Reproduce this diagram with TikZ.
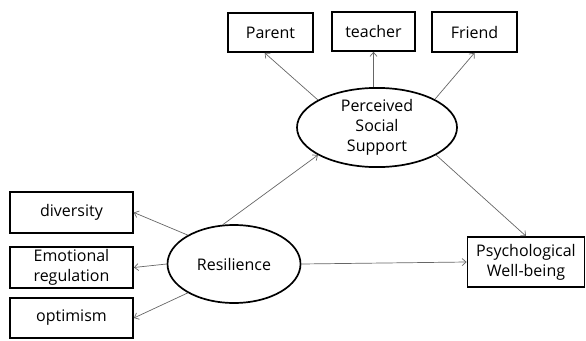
\documentclass[tikz,border=0pt]{standalone}
\usepackage{fontspec}
\setmainfont{Open Sans}
\usetikzlibrary{shapes.geometric,arrows.meta}
\begin{document}
\begin{tikzpicture}[x=1pt,y=-1pt,
  every node/.style={font=\fontsize{16}{20}\selectfont, inner sep=0pt, align=center},
  obs/.style={draw=black, line width=1.7pt, rectangle},
  latent/.style={draw=black, line width=1.7pt, ellipse},
  arr/.style={draw=black!60, line width=0.7pt, -{Straight Barb[length=4pt,width=7pt]}}]
\useasboundingbox (0,0) rectangle (586,340);

% indicators of perceived social support
\node[obs, minimum width=85pt, minimum height=39pt] (parent) at (270.5,32.5) {Parent};
\node[obs, minimum width=83pt, minimum height=39pt] (teacher) at (373.5,31.5) {teacher};
\node[obs, minimum width=85pt, minimum height=40pt] (friend) at (474.5,32) {Friend};

% latent constructs
\node[latent, minimum width=160pt, minimum height=75pt] (pss) at (377,127.5) {Perceived\\Social\\Support};
\node[latent, minimum width=133pt, minimum height=78pt] (res) at (234,264) {Resilience};

% indicators of resilience
\node[obs, minimum width=123pt, minimum height=41pt] (div) at (71.5,212.5) {diversity};
\node[obs, minimum width=123pt, minimum height=41pt] (emo) at (71.5,267.5) {Emotional\\regulation};
\node[obs, minimum width=123pt, minimum height=40pt] (opt) at (71.5,318) {optimism};

% outcome
\node[obs, minimum width=117pt, minimum height=50pt] (pwb) at (526,262) {Psychological\\Well-being};

% measurement paths
\draw[arr] (pss.155) -- (parent.254);
\draw[arr] (teacher.south |- pss.north) -- (teacher.south);
\draw[arr] (pss.26) -- (friend.south);
\draw[arr] (res.148) -- (div.east);
\draw[arr] (res.west) -- (emo.east);
\draw[arr] (res.212) -- (opt.east);

% structural paths
\draw[arr] (res.106) -- (pss.205);
\draw[arr] (pss.335) -- (pwb.north);
\draw[arr] (res.east) -- (pwb.west);
\end{tikzpicture}
\end{document}
